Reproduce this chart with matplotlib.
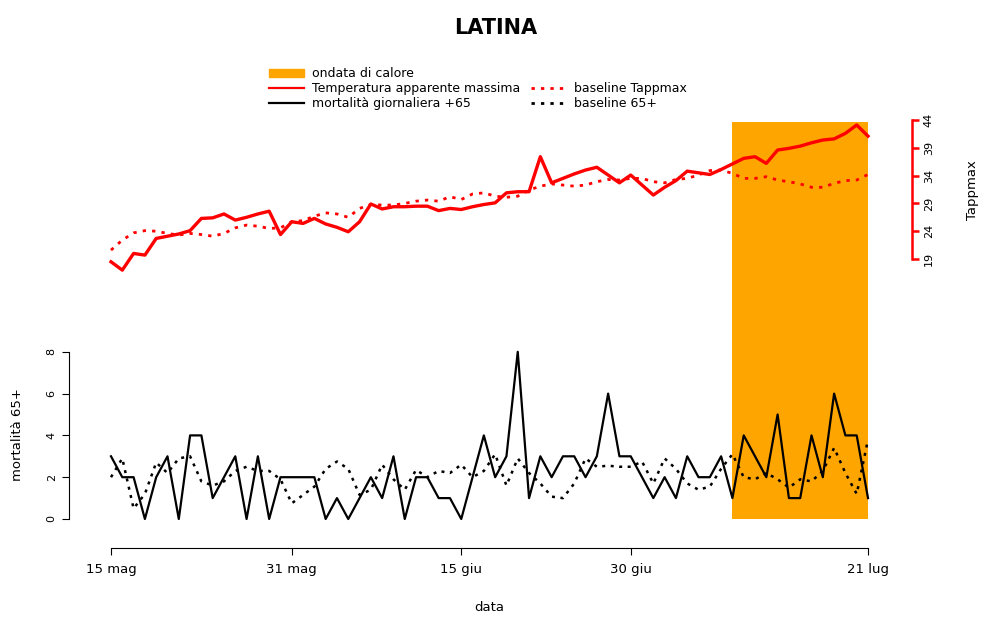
import matplotlib.pyplot as plt
from matplotlib.patches import Patch
from matplotlib.lines import Line2D
import numpy as np

mortality = [3, 2, 2, 0, 2, 3, 0, 4, 4, 1, 2, 3, 0, 3, 0, 2, 2, 2, 2, 0, 1, 0, 1, 2, 1, 3, 0, 2, 2, 1, 1, 0, 2, 4,
             2, 3, 8, 1, 3, 2, 3, 3, 2, 3, 6, 3, 3, 2, 1, 2, 1, 3, 2, 2, 3, 1, 4, 3, 2, 5, 1, 1, 4, 2, 6, 4, 4, 1]
baseline_mort = [2.0, 2.9, 0.5, 1.2, 2.7, 2.2, 2.9, 3.0, 1.8, 1.6, 1.8, 2.3, 2.5, 2.3, 2.3, 1.9, 0.75, 1.15, 1.55,
                 2.4, 2.75, 2.4, 1.15, 1.4, 2.6, 1.9, 1.4, 2.35, 2.0, 2.3, 2.2, 2.6, 2.0, 2.3, 3.1, 1.6, 2.9, 2.2,
                 1.7, 1.07, 1.0, 1.7, 2.9, 2.5, 2.55, 2.5, 2.5, 2.75, 1.7, 2.9, 2.4, 1.7, 1.4, 1.55, 2.4, 3.1, 2.0,
                 1.9, 2.2, 1.9, 1.5, 1.9, 1.8, 2.3, 3.4, 2.2, 1.2, 3.8]
tappmax = [18.5, 17.0, 20.0, 19.7, 22.7, 23.1, 23.5, 24.1, 26.3, 26.4, 27.1, 26.0, 26.5, 27.1, 27.6, 23.4, 25.7,
           25.4, 26.3, 25.3, 24.7, 23.9, 25.7, 28.9, 28.0, 28.4, 28.4, 28.5, 28.5, 27.7, 28.1, 27.9, 28.4, 28.8,
           29.1, 30.9, 31.1, 31.1, 37.4, 32.7, 33.5, 34.3, 35.0, 35.5, 34.1, 32.7, 34.1, 32.3, 30.5, 31.9, 33.1,
           34.8, 34.5, 34.2, 35.1, 36.1, 37.1, 37.4, 36.2, 38.6, 38.9, 39.3, 39.9, 40.4, 40.6, 41.6, 43.1, 41.1]
baseline_tapp = [20.6, 22.4, 23.7, 24.1, 24.0, 23.6, 23.3, 23.6, 23.4, 23.1, 23.6, 24.6, 25.1, 24.9, 24.5, 24.6,
                 25.7, 25.9, 26.7, 27.3, 27.1, 26.5, 28.1, 28.8, 28.7, 28.7, 29.0, 29.4, 29.6, 29.4, 30.2, 29.7,
                 30.7, 30.9, 30.3, 30.1, 30.3, 31.4, 32.1, 32.5, 32.3, 32.1, 32.3, 32.9, 33.3, 33.2, 33.5, 33.5,
                 32.9, 32.7, 33.3, 33.5, 34.1, 34.9, 35.0, 34.4, 33.5, 33.5, 33.8, 33.2, 32.9, 32.5, 31.9, 31.9,
                 32.6, 33.1, 33.2, 34.2]
heatwave_days = (55, 67)
tick_days = [0, 16, 31, 46, 67]
tick_labels = ['15 mag', '31 mag', '15 giu', '30 giu', '21 lug']

W, H = 991, 621
fig = plt.figure(figsize=(W / 100, H / 100), dpi=100)
ax = fig.add_axes([81 / W, 1 - 535 / H, (898 - 81) / W, (535 - 106) / H])
days = np.arange(len(mortality))

ax.set_xlim(-30 / 11.3, 67 + 30 / 11.3)
ax.set_ylim(-16 / 20.9, (519 - 106) / 20.9)
ax.fill_between(heatwave_days, 0, 19.0, color='orange', lw=0, zorder=0)
ax.plot(days, mortality, color='black', lw=1.6)
ax.plot(days, baseline_mort, color='black', lw=1.8, ls=(0, (1.2, 2.2)))

ax2 = ax.twinx()
ax2.set_ylim(19 - (535 - 259) / 5.56, 19 + (259 - 106) / 5.56)
ax2.plot(days, tappmax, color='red', lw=2.4)
ax2.plot(days, baseline_tapp, color='red', lw=2.0, ls=(0, (1.2, 2.2)))

for a in (ax, ax2):
    for s in a.spines.values():
        s.set_visible(False)
ax.spines['left'].set_visible(True)
ax.spines['left'].set_position(('outward', 9))
ax.spines['left'].set_bounds(0, 8)
ax.spines['bottom'].set_visible(True)
ax.spines['bottom'].set_position(('outward', 9))
ax.spines['bottom'].set_bounds(0, 67)
ax.set_yticks(range(0, 9, 2))
ax.set_xticks(tick_days)
ax.set_xticklabels(tick_labels, fontsize=9.5)
ax.tick_params(axis='y', labelsize=8, labelrotation=90, length=5)
ax.tick_params(axis='x', length=5, pad=6)
for lab in ax.get_yticklabels():
    lab.set_va('center')

ax2.spines['right'].set_visible(True)
ax2.spines['right'].set_position(('outward', 10))
ax2.spines['right'].set_bounds(19, 44)
ax2.spines['right'].set_color('red')
ax2.spines['right'].set_linewidth(1.8)
ax2.set_yticks(range(19, 45, 5))
ax2.tick_params(axis='y', labelsize=8, labelrotation=90, length=5, color='red', width=1.8)
for lab in ax2.get_yticklabels():
    lab.set_va('center')

ax.set_ylabel('mortalità 65+', fontsize=9.5)
ax.yaxis.set_label_coords(-57 / (898 - 81), (535 - 435) / (535 - 106))
ax2.set_ylabel('Tappmax', fontsize=9.5)
ax2.yaxis.set_label_coords(1 + 68 / (898 - 81), (535 - 190) / (535 - 106))
ax.set_xlabel('data', fontsize=9.5, labelpad=18)
fig.suptitle('LATINA', fontsize=15, fontweight='bold', y=1 - 18 / H)

handles = [Patch(color='orange'),
           Line2D([], [], color='red', lw=1.6),
           Line2D([], [], color='black', lw=1.6),
           Line2D([], [], alpha=0),
           Line2D([], [], color='red', lw=2, ls=(0, (1.2, 2.2))),
           Line2D([], [], color='black', lw=2, ls=(0, (1.2, 2.2)))]
labels = ['ondata di calore', 'Temperatura apparente massima', 'mortalità giornaliera +65',
          '', 'baseline Tappmax', 'baseline 65+']
fig.legend(handles, labels, ncol=2, frameon=False, fontsize=9,
           loc='upper left', bbox_to_anchor=(258 / W, 1 - 56 / H),
           handlelength=2.8, labelspacing=0.15, columnspacing=0.9, handletextpad=0.6)

fig.savefig('out.png', dpi=100)
